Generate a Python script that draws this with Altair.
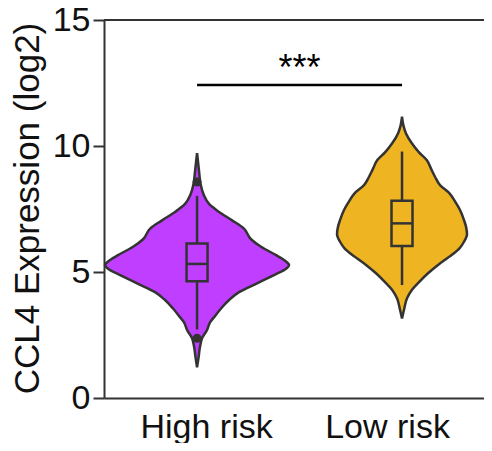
import altair as alt
import pandas as pd

# ---- data ----
groups = ["High risk", "Low risk"]
group_pos = [1, 2]
colors = ["#BF3EFF", "#EFB422"]

# violin outlines: expression value and half-width (px at the drawn scale)
high_val = [1.22, 1.6, 2.04, 2.37, 2.70, 3.0, 3.23, 3.55, 3.89, 4.2, 4.55, 4.9, 5.1, 5.28,
            5.45, 5.67, 6.0, 6.3, 6.73, 7.05, 7.39, 7.7, 8.06, 8.5, 9.0, 9.72]
high_hw = [0, 1.5, 3, 5, 10, 13, 17.5, 24, 32, 42, 60, 78, 88, 92,
           88, 79, 64, 54, 46.7, 35, 21.7, 12, 6.7, 3.5, 2, 0]
low_val = [3.16, 3.5, 3.96, 4.3, 4.62, 4.95, 5.28, 5.6, 5.94, 6.2, 6.5, 6.8, 7.06, 7.46,
           7.8, 8.12, 8.45, 8.78, 9.1, 9.44, 9.75, 10.1, 10.5, 10.8, 11.16]
low_hw = [0, 2, 5, 10, 17.5, 26, 36, 47, 57.5, 62, 65, 64, 62, 58,
          53, 47.5, 38, 33, 29, 24.7, 17, 10, 4, 1.5, 0]

# box plot summaries
q1 = [4.63, 6.03]
median = [5.32, 6.93]
q3 = [6.13, 7.83]
whisker_low = [2.72, 4.48]
whisker_high = [8.02, 9.78]
outlier_group = ["High risk", "High risk"]
outlier_val = [8.57, 2.37]

# significance
sig_from, sig_to = 1, 2
sig_y = 12.42
sig_text = "***"

y_ticks = [0, 5, 10, 15]
x_label_pos = [1.044, 1.927]

# ---- layout helpers ----
PX = 205.0  # px per x unit
BOX_HW = 10.5 / PX
X_DOMAIN = [0.546, 2.4]
W, H = 380, 378
DARK = "#333333"
FONT = "Liberation Sans"

rows = []
for g, p, vals, hws in [("High risk", 1, high_val, high_hw), ("Low risk", 2, low_val, low_hw)]:
    for v, hw in zip(vals, hws):
        rows.append({"group": g, "pos": p, "value": v, "left": p - hw / PX, "right": p + hw / PX})
violin_df = pd.DataFrame(rows).sort_values(["group", "value"])

box_df = pd.DataFrame({
    "group": groups, "pos": group_pos, "q1": q1, "median": median, "q3": q3,
    "wlo": whisker_low, "whi": whisker_high,
})
box_df["bl"] = box_df["pos"] - BOX_HW
box_df["br"] = box_df["pos"] + BOX_HW

out_df = pd.DataFrame({"group": outlier_group, "value": outlier_val})
out_df["pos"] = out_df["group"].map(dict(zip(groups, group_pos)))

xs = alt.Scale(domain=X_DOMAIN, nice=False, zero=False)
ys = alt.Scale(domain=[0, 15], nice=False, zero=True)

label_expr = "datum.value < 1.5 ? '%s' : '%s'" % (groups[0], groups[1])

x_axis = alt.Axis(values=x_label_pos, labelExpr=label_expr, ticks=False, grid=False, title=None,
                  labelFontSize=34, labelPadding=12, labelColor="#111111", labelFont=FONT,
                  domainColor=DARK, domainWidth=2)
y_axis = alt.Axis(values=y_ticks, grid=False, title="CCL4 Expression (log2)",
                  tickSize=11, tickWidth=2, tickColor=DARK, domainColor=DARK, domainWidth=2,
                  labelFontSize=34, labelPadding=3, labelColor="#111111", labelFont=FONT,
                  titleFontSize=35, titleFont=FONT, titleFontWeight="normal", titleColor="#111111",
                  titleX=-66, titleY=188, titleAngle=-90, titleBaseline="alphabetic", titleAlign="center")

violin = alt.Chart(violin_df).mark_area(
    orient="horizontal", interpolate="monotone", stroke=DARK, strokeWidth=2.5, fillOpacity=1
).encode(
    y=alt.Y("value:Q", scale=ys, axis=y_axis),
    x=alt.X("left:Q", scale=xs, axis=x_axis),
    x2="right:Q",
    color=alt.Color("group:N", scale=alt.Scale(domain=groups, range=colors), legend=None),
    detail="group:N",
)

base_box = alt.Chart(box_df)
whisk_lo = base_box.mark_rule(color=DARK, strokeWidth=2.5).encode(
    x=alt.X("pos:Q", scale=xs), y=alt.Y("wlo:Q", scale=ys), y2="q1:Q")
whisk_hi = base_box.mark_rule(color=DARK, strokeWidth=2.5).encode(
    x=alt.X("pos:Q", scale=xs), y=alt.Y("q3:Q", scale=ys), y2="whi:Q")
box = base_box.mark_rect(fillOpacity=0, stroke=DARK, strokeWidth=2.5).encode(
    x=alt.X("bl:Q", scale=xs), x2="br:Q", y=alt.Y("q1:Q", scale=ys), y2="q3:Q")
med = base_box.mark_rule(color=DARK, strokeWidth=2.5).encode(
    x=alt.X("bl:Q", scale=xs), x2="br:Q", y=alt.Y("median:Q", scale=ys))

outl = alt.Chart(out_df).mark_circle(size=80, color=DARK, opacity=1).encode(
    x=alt.X("pos:Q", scale=xs), y=alt.Y("value:Q", scale=ys))

sig_df = pd.DataFrame({"x1": [sig_from], "x2": [sig_to], "y": [sig_y],
                       "tx": [(sig_from + sig_to) / 2], "ty": [sig_y + 0.2], "t": [sig_text]})
sig_line = alt.Chart(sig_df).mark_rule(color="#000000", strokeWidth=2.5).encode(
    x=alt.X("x1:Q", scale=xs), x2="x2:Q", y=alt.Y("y:Q", scale=ys))
sig_lab = alt.Chart(sig_df).mark_text(fontSize=36, font=FONT, baseline="alphabetic", color="#000000").encode(
    x=alt.X("tx:Q", scale=xs), y=alt.Y("ty:Q", scale=ys), text="t:N")

top_line = alt.Chart(pd.DataFrame({"y": [15]})).mark_rule(color=DARK, strokeWidth=2).encode(
    y=alt.Y("y:Q", scale=ys), x=alt.value(0), x2=alt.value(W))

chart = alt.layer(
    violin, whisk_lo, whisk_hi, box, med, outl, sig_line, sig_lab, top_line
).properties(
    width=W, height=H,
    autosize=alt.AutoSizeParams(type="none"),
    padding={"left": 96, "top": 12, "right": 0, "bottom": 45},
).configure_view(stroke=None)

chart.save("out.html", embed_options={"renderer": "svg", "actions": False})
